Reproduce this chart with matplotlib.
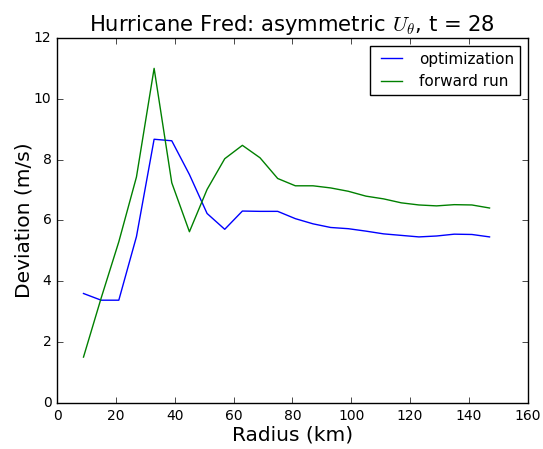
import matplotlib
matplotlib.use("Agg")
import matplotlib.pyplot as plt

plt.style.use('classic')

radius = [9, 15, 21, 27, 33, 39, 45, 51, 57, 63, 69, 75, 81, 87, 93, 99,
          105, 111, 117, 123, 129, 135, 141, 147]
optimization = [3.60, 3.38, 3.38, 5.47, 8.67, 8.62, 7.51, 6.23, 5.71, 6.31,
                6.30, 6.30, 6.06, 5.89, 5.77, 5.73, 5.65, 5.56, 5.51, 5.46,
                5.49, 5.55, 5.54, 5.46]
forward_run = [1.51, 3.45, 5.30, 7.43, 11.0, 7.24, 5.63, 7.02, 8.03, 8.47,
               8.06, 7.38, 7.14, 7.14, 7.07, 6.96, 6.80, 6.71, 6.58, 6.51,
               6.48, 6.52, 6.51, 6.41]

fig = plt.figure(figsize=(5.43, 4.49), dpi=100, facecolor='white')
ax = fig.add_axes([0.105, 0.1024, 0.867, 0.8131])
ax.plot(radius, optimization, color='b', label='optimization')
ax.plot(radius, forward_run, color='g', label='forward run')
ax.set_xlim(0, 160)
ax.set_ylim(0, 12)
ax.set_xlabel('Radius (km)', fontsize=14.5, labelpad=2)
ax.set_ylabel('Deviation (m/s)', fontsize=14.5, labelpad=0)
ax.set_title(r'Hurricane Fred: asymmetric $U_\theta$, t = 28', fontsize=15.2)
ax.tick_params(labelsize=10)
ax.legend(loc='upper right', fontsize=11)
fig.savefig('out.png', dpi=100, facecolor='white')
